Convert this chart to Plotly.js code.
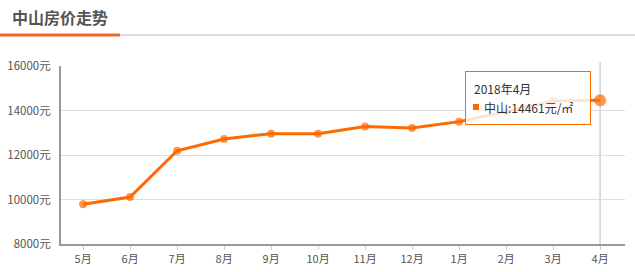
<!DOCTYPE html>
<html>
<head>
<meta charset="utf-8">
<script src="https://cdn.plot.ly/plotly-3.0.1.min.js"></script>
<style>
html,body{margin:0;padding:0;background:#fff;}
#chart{width:635px;height:272px;}
</style>
</head>
<body>
<div id="chart"></div>
<script>
const chartTitle = "中山房价走势";
const cityName = "中山";
const months = ["5月","6月","7月","8月","9月","10月","11月","12月","1月","2月","3月","4月"];
const prices = [9790, 10110, 12190, 12720, 12960, 12960, 13280, 13210, 13500, 13950, 14440, 14461];
const hoverLabel = "2018年4月";
const yTicks = [8000, 10000, 12000, 14000, 16000];

const W = 635, H = 272;
const L = 61, R = 625, T = 66, B = 244;
const px = x => (x - L) / (R - L);
const py = y => (B - y) / (B - T);

const idx = months.map((m, i) => i);
const last = prices.length - 1;
const orange = "#ff6a00";
const font = "'Noto Sans CJK SC', 'Microsoft YaHei', sans-serif";

const trace = {
  x: idx,
  y: prices,
  type: "scatter",
  mode: "lines+markers",
  line: {color: orange, width: 3},
  marker: {
    color: orange,
    size: prices.map((v, i) => i === last ? 12 : 8),
    line: {width: 0}
  },
  hoverinfo: "skip"
};

const layout = {
  width: W, height: H,
  margin: {l: L, r: W - R, t: T, b: H - B, pad: 0},
  paper_bgcolor: "#fff",
  plot_bgcolor: "#fff",
  showlegend: false,
  font: {family: font, color: "#555", size: 11},
  title: {
    text: "<b>" + chartTitle + "</b>",
    font: {family: font, size: 16, color: "#555"},
    xref: "container", yref: "container",
    x: 12 / W, xanchor: "left",
    y: 1 - 18 / H, yanchor: "middle"
  },
  xaxis: {
    range: [-0.47, 11.53],
    tickvals: idx,
    ticktext: months,
    showgrid: false,
    zeroline: false,
    showline: true,
    linecolor: "#999",
    linewidth: 2,
    ticks: "outside",
    ticklen: 4,
    tickcolor: "#b8d4ee",
    tickwidth: 1,
    tickfont: {family: font, size: 11, color: "#555"},
    fixedrange: true
  },
  yaxis: {
    range: [8000, 16000],
    tickvals: yTicks,
    ticktext: yTicks.map(v => v + "元"),
    showgrid: true,
    gridcolor: "#dcdcdc",
    gridwidth: 1,
    zeroline: false,
    showline: true,
    linecolor: "#999",
    linewidth: 2,
    ticks: "",
    ticklabelstandoff: 6,
    tickfont: {family: font, size: 11.5, color: "#555"},
    fixedrange: true
  },
  shapes: [
    {type: "line", xref: "paper", yref: "paper", x0: px(0), x1: px(120), y0: py(35), y1: py(35),
     line: {color: "#f26522", width: 3}},
    {type: "line", xref: "paper", yref: "paper", x0: px(120), x1: px(635), y0: py(35), y1: py(35),
     line: {color: "#dddddd", width: 2}},
    {type: "line", xref: "x", yref: "paper", x0: last, x1: last, y0: 0, y1: py(62),
     line: {color: "#bbbbbb", width: 1}, layer: "below"},
    {type: "rect", xref: "paper", yref: "paper", x0: px(465.5), x1: px(590.5), y0: py(124.5), y1: py(71.5),
     line: {color: orange, width: 1}, fillcolor: "rgba(255,255,255,0.82)", layer: "above"},
    {type: "rect", xref: "paper", yref: "paper", x0: px(473), x1: px(479), y0: py(110), y1: py(104),
     line: {width: 0}, fillcolor: orange, layer: "above"}
  ],
  annotations: [
    {
      xref: "paper", yref: "paper",
      x: px(472), y: py(88),
      xanchor: "left", yanchor: "middle",
      showarrow: false,
      font: {family: font, size: 12, color: "#333"},
      text: hoverLabel
    },
    {
      xref: "paper", yref: "paper",
      x: px(482), y: py(107),
      xanchor: "left", yanchor: "middle",
      showarrow: false,
      font: {family: font, size: 12, color: "#333"},
      text: cityName + ":" + prices[last] + "元/㎡"
    }
  ]
};

Plotly.newPlot("chart", [trace], layout, {displayModeBar: false, staticPlot: true});
</script>
</body>
</html>
